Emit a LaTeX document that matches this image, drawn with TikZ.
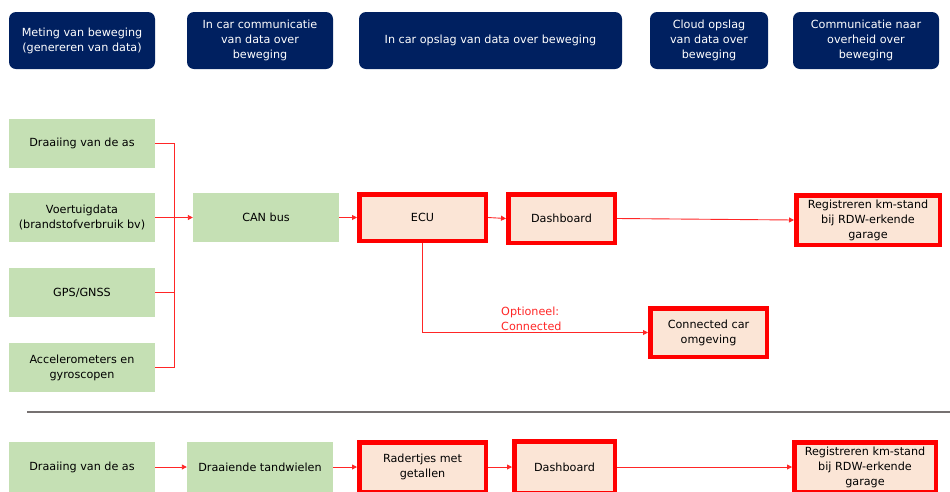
\documentclass[tikz,border=0pt]{standalone}
\usepackage{fontspec}
\setmainfont{DejaVu Sans}
\usetikzlibrary{arrows.meta}
\definecolor{navy}{HTML}{002060}
\definecolor{lgreen}{HTML}{C5E0B4}
\definecolor{peach}{HTML}{FBE5D6}
\definecolor{sepgray}{HTML}{767171}
\tikzset{
  base/.style={inner sep=1pt, align=center, font=\fontsize{11.2}{15}\selectfont},
  hdr/.style={base, fill=navy, text=white, rounded corners=7pt, minimum height=57pt},
  gbox/.style={base, fill=lgreen, minimum width=146pt, minimum height=49pt},
  rbox/.style={base, fill=peach, draw=red, line width=4.5pt},
  conn/.style={draw=red!85, line width=0.9pt},
  arr/.style={conn, -{Triangle[length=5pt,width=5pt]}},
  lbl/.style={font=\fontsize{11.2}{15}\selectfont, text=red!85, align=left, inner sep=0pt}
}
\begin{document}
\begin{tikzpicture}[x=1pt,y=-1pt]
\useasboundingbox (0,0) rectangle (950,491);
% headers
\node[hdr, minimum width=146pt] (h1) at (82,40.5) {Meting van beweging\\(genereren van data)};
\node[hdr, minimum width=146pt] (h2) at (260,40.5) {In car communicatie\\van data over\\beweging};
\node[hdr, minimum width=263pt] (h3) at (490.5,40.5) {In car opslag van data over beweging};
\node[hdr, minimum width=118pt] (h4) at (709,40.5) {Cloud opslag\\van data over\\beweging};
\node[hdr, minimum width=146pt] (h5) at (866,40.5) {Communicatie naar\\overheid over\\beweging};
% top flow
\node[gbox] (g1) at (82,143.5) {Draaiing van de as};
\node[gbox] (g2) at (82,217.5) {Voertuigdata\\(brandstofverbruik bv)};
\node[gbox] (g3) at (82,292.5) {GPS/GNSS};
\node[gbox] (g4) at (82,367.5) {Accelerometers en\\gyroscopen};
\node[gbox] (can) at (266,217.5) {CAN bus};
\node[rbox, minimum width=126.5pt, minimum height=46.5pt] (ecu) at (422.5,217.5) {ECU};
\node[rbox, minimum width=106.5pt, minimum height=48.5pt] (dash) at (561.5,218.5) {Dashboard};
\node[rbox, minimum width=143.5pt, minimum height=49.5pt] (reg) at (868,220) {Registreren km-stand\\bij RDW-erkende\\garage};
\node[rbox, minimum width=116.5pt, minimum height=48.5pt] (cc) at (708.5,332.5) {Connected car\\omgeving};
\coordinate (j) at (174,217.5);
\draw[conn] (g1.east) -| (j);
\draw[conn] (g3.east) -| (j);
\draw[conn] (g4.east) -| (j);
\draw[arr] (g2.east) -- (can.west);
\draw[arr] (can.east) -- (ecu.west);
\draw[arr] (ecu.east) -- (dash.west);
\draw[arr] (dash.east) -- (reg.west);
\draw[arr] (ecu.south) |- (cc.west);
\node[lbl, anchor=south west] (opt) at (501,331) {Optioneel:\\Connected};
% separator
\draw[sepgray, line width=1.5pt] (27,412) -- (950,412);
% bottom flow
\node[gbox, minimum height=50pt] (b1) at (82,467) {Draaiing van de as};
\node[gbox, minimum height=50pt] (b2) at (260,467) {Draaiende tandwielen};
\node[rbox, minimum width=126.5pt, minimum height=49.5pt] (b3) at (422.5,467) {Radertjes met\\getallen};
\node[rbox, minimum width=100.5pt, minimum height=51.5pt] (b4) at (564.5,467) {Dashboard};
\node[rbox, minimum width=141.5pt, minimum height=49.5pt] (b5) at (865,467) {Registreren km-stand\\bij RDW-erkende\\garage};
\draw[arr] (b1.east) -- (b2.west);
\draw[arr] (b2.east) -- (b3.west);
\draw[arr] (b3.east) -- (b4.west);
\draw[arr] (b4.east) -- (b5.west);
\end{tikzpicture}
\end{document}
